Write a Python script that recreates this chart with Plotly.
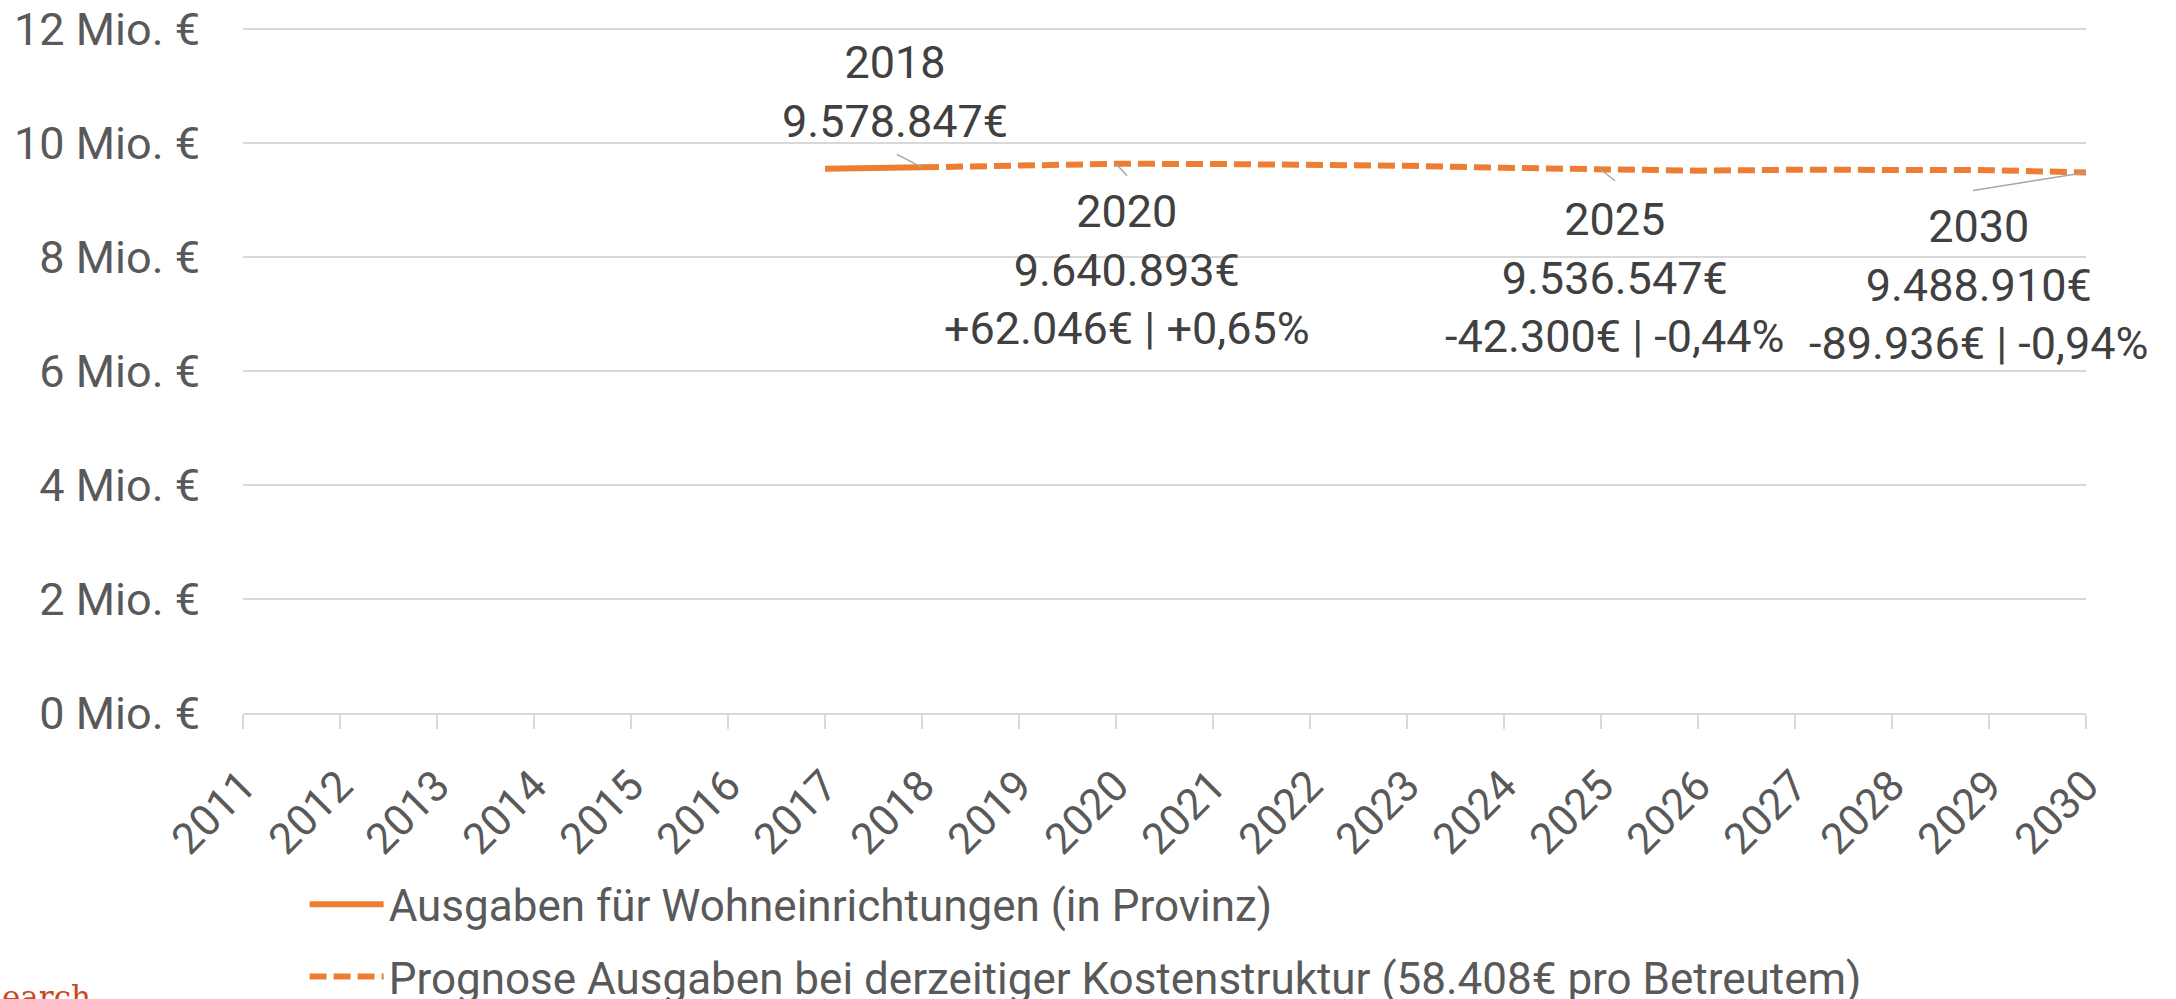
import plotly.graph_objects as go

# ---- data ----
years = list(range(2011, 2031))
hist_years = [2017, 2018]
hist_values = [9555000, 9578847]
prog_years = list(range(2018, 2031))
prog_values = [9578847, 9612000, 9640893, 9638000, 9630000, 9606000, 9571000,
               9536547, 9520000, 9537000, 9535000, 9530000, 9488910]
y_tickvals = [0, 2e6, 4e6, 6e6, 8e6, 10e6, 12e6]
y_ticktext = ["0 Mio. €", "2 Mio. €", "4 Mio. €", "6 Mio. €", "8 Mio. €", "10 Mio. €", "12 Mio. €"]
label_years = [2018, 2020, 2025, 2030]
label_values = [9578847, 9640893, 9536547, 9488910]
label_value_text = ["9.578.847€", "9.640.893€", "9.536.547€", "9.488.910€"]
label_diff_text = [None, "+62.046€ | +0,65%", "-42.300€ | -0,44%", "-89.936€ | -0,94%"]
name_hist = "Ausgaben für Wohneinrichtungen (in Provinz)"
name_prog = "Prognose Ausgaben bei derzeitiger Kostenstruktur (58.408€ pro Betreutem)"

ORANGE = "#ED7D31"
GRID = "#D9D9D9"
TXT = "#595959"
LBL = "#404040"
FONT = "Roboto"
FS = 45

fig = go.Figure()
fig.add_trace(go.Scatter(x=hist_years, y=hist_values, mode="lines", name=name_hist,
                         line=dict(color=ORANGE, width=6), legendgroup="a"))
fig.add_trace(go.Scatter(x=prog_years, y=prog_values, mode="lines", name=name_prog,
                         line=dict(color=ORANGE, width=6, dash="17px,7px"), legendgroup="b"))

# label text offsets (px, y up) and leader line end offsets (px, y up)
text_shift = [(-27, 75), (11, -106), (13, -108), (-108, -113)]
leader_end = [(-25, 13), (11, -12), (14, -11), (-113, -18)]
for yr, val, vt, dt, (sx, sy), (lx, ly) in zip(label_years, label_values, label_value_text,
                                                 label_diff_text, text_shift, leader_end):
    txt = f"{yr}<br>{vt}" + (f"<br>{dt}" if dt else "")
    fig.add_annotation(x=yr, y=val, xref="x", yref="y", text=txt, showarrow=False,
                       xshift=sx, yshift=sy, xanchor="center", yanchor="middle",
                       font=dict(family=FONT, size=FS, color=LBL), align="center")
    fig.add_shape(type="line", xref="x", yref="y", xsizemode="pixel", ysizemode="pixel",
                  xanchor=yr, yanchor=val, x0=0, y0=0, x1=lx, y1=ly,
                  line=dict(color="#A6A6A6", width=1.5), layer="above")

fig.add_annotation(text="earch", xref="paper", yref="paper", x=-0.1318, y=-0.444,
                   xanchor="left", yanchor="bottom", showarrow=False,
                   font=dict(family="DejaVu Serif", size=31, color="#C9481E"))

fig.update_layout(
    width=2176, height=999,
    margin=dict(l=243, r=90, t=28, b=286, autoexpand=False),
    paper_bgcolor="white", plot_bgcolor="white",
    font=dict(family=FONT, size=FS, color=TXT),
    showlegend=True,
    legend=dict(orientation="v", x=0.140, xref="container", xanchor="left",
                y=0.130, yref="container", yanchor="top",
                traceorder="grouped", tracegroupgap=12, itemwidth=74,
                font=dict(family=FONT, size=44, color=TXT), bgcolor="rgba(0,0,0,0)"),
    xaxis=dict(range=[2011, 2030], tickvals=years, ticktext=[str(y) for y in years],
               tickangle=-45, ticks="outside", ticklen=14, tickwidth=2, tickcolor=GRID,
               showline=True, linecolor=GRID, linewidth=2, showgrid=False, zeroline=False,
               ticklabelstandoff=14,
               tickfont=dict(family=FONT, size=43, color=TXT)),
    yaxis=dict(range=[0, 12.025e6], tickvals=y_tickvals, ticktext=y_ticktext,
               showgrid=True, gridcolor=GRID, gridwidth=2, zeroline=False,
               showline=False, ticks="", ticklabelstandoff=42,
               tickfont=dict(family=FONT, size=FS, color=TXT)),
)

fig.write_html("out.html", config={"displayModeBar": False},
               post_script="document.body.style.margin='0';document.body.style.overflow='hidden';")
